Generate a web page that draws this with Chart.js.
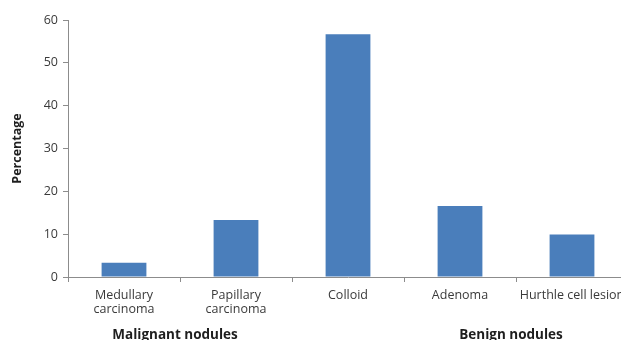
<!DOCTYPE html>
<html>
<head>
<meta charset="utf-8">
<script src="https://cdn.jsdelivr.net/npm/chart.js@4/dist/chart.umd.min.js"></script>
<style>
  html, body { margin: 0; padding: 0; background: #fff; overflow: hidden; }
  #wrap { width: 621px; height: 340px; overflow: hidden; position: relative; }
  #box { width: 640px; height: 340px; }
</style>
</head>
<body>
<div id="wrap"><div id="box"><canvas id="grafico"></canvas></div></div>
<script>
// categorias e valores (percentagem)
const categorias = [['Medullary', 'carcinoma'], ['Papillary', 'carcinoma'], 'Colloid', 'Adenoma', 'Hurthle cell lesion'];
const percentagens = [3.3, 13.3, 56.7, 16.6, 9.9];
const ticksY = [0, 10, 20, 30, 40, 50, 60];

// grupos abaixo do eixo x
const grupos = ['Malignant nodules', 'Benign nodules'];
const gruposInicio = [0, 3];
const gruposFim = [1, 4];

const corTexto = '#3a3a3a';
const corEixo = '#8c8c8c';

// desenha os nomes dos grupos embaixo das categorias
const gruposPlugin = {
  id: 'grupos',
  afterDraw(chart) {
    const ctx = chart.ctx;
    const x = chart.scales.x;
    ctx.save();
    ctx.fillStyle = '#1e1e1e';
    ctx.font = 'bold 13.5px "Open Sans", sans-serif';
    ctx.textAlign = 'center';
    ctx.textBaseline = 'middle';
    grupos.forEach((nome, i) => {
      const centro = (x.getPixelForValue(gruposInicio[i]) + x.getPixelForValue(gruposFim[i])) / 2;
      ctx.fillText(nome, centro - 5, chart.chartArea.bottom + 58);
    });
    ctx.restore();
  }
};

new Chart(document.getElementById('grafico').getContext('2d'), {
  type: 'bar',
  data: {
    labels: categorias,
    datasets: [{
      data: percentagens,
      backgroundColor: '#4a7ebb',
      borderWidth: 0,
      barPercentage: 0.8,
      categoryPercentage: 0.5
    }]
  },
  options: {
    responsive: true,
    maintainAspectRatio: false,
    animation: false,
    layout: { padding: { top: 20, right: 12, left: 0, bottom: 0 } },
    plugins: {
      legend: { display: false },
      tooltip: { enabled: false }
    },
    scales: {
      y: {
        min: 0,
        max: 60,
        afterBuildTicks: scale => { scale.ticks = ticksY.map(v => ({ value: v })); },
        afterFit: scale => { scale.width = 68; },
        border: { color: corEixo, width: 1 },
        grid: { drawOnChartArea: false, tickLength: 5, color: corEixo },
        ticks: {
          color: corTexto,
          padding: 5,
          font: { family: '"Open Sans", sans-serif', size: 12.5 }
        },
        title: {
          display: true,
          text: 'Percentage',
          color: '#1e1e1e',
          padding: { top: 10, bottom: 6 },
          font: { family: '"Open Sans", sans-serif', size: 12.5, weight: 'bold' }
        }
      },
      x: {
        afterFit: scale => { scale.height = 63; },
        border: { color: corEixo, width: 1 },
        grid: { drawOnChartArea: false, tickLength: 5, color: corEixo, offset: true },
        ticks: {
          color: corTexto,
          padding: 6,
          maxRotation: 0,
          autoSkip: false,
          font: { family: '"Open Sans", sans-serif', size: 12.5, lineHeight: 1.15 }
        }
      }
    }
  },
  plugins: [gruposPlugin]
});
</script>
</body>
</html>
